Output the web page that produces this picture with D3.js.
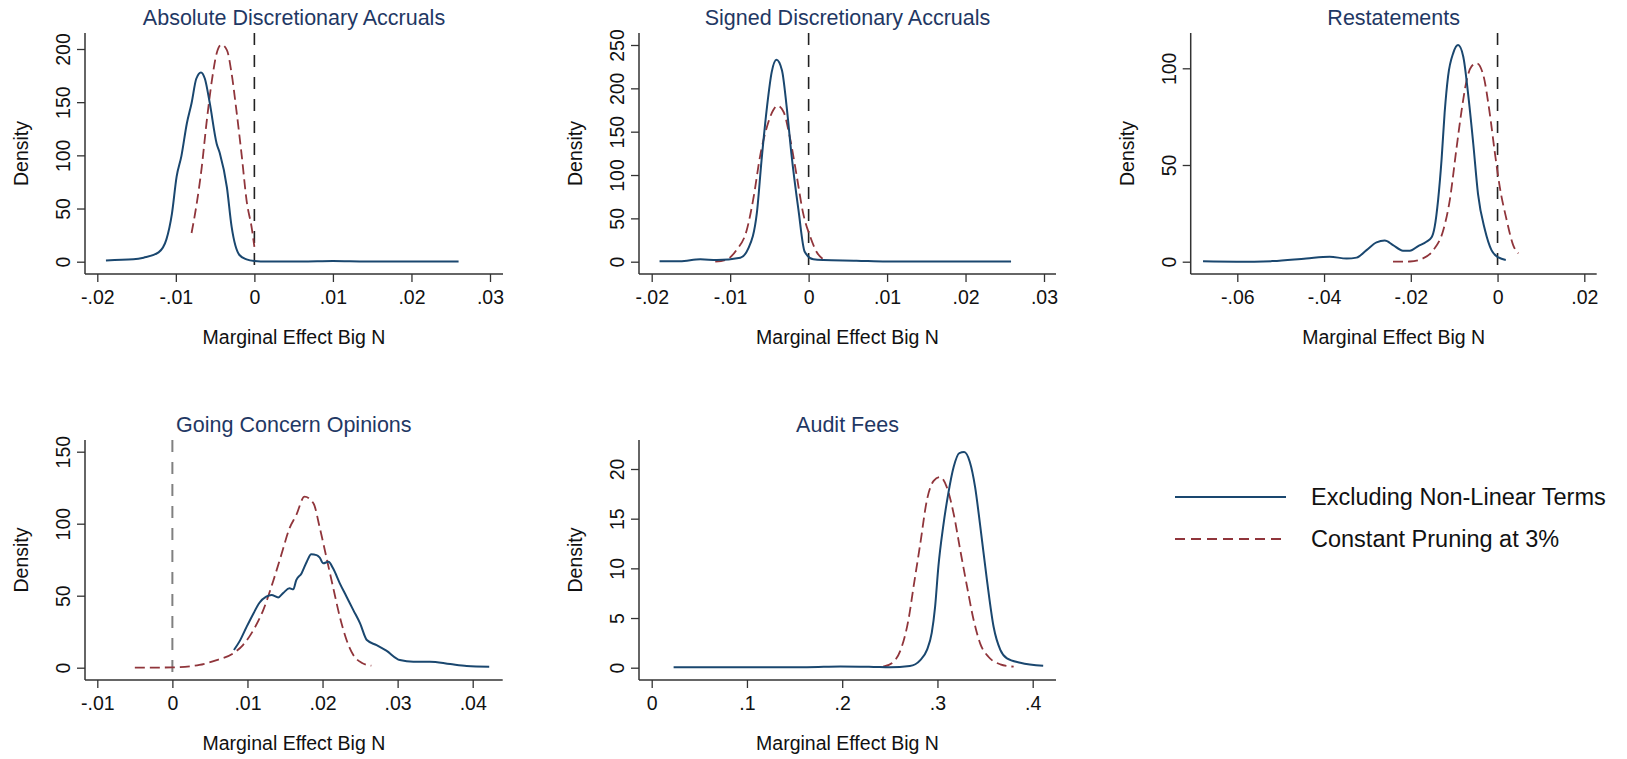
<!DOCTYPE html>
<html>
<head>
<meta charset="utf-8">
<script src="https://cdn.jsdelivr.net/npm/d3@7"></script>
<style>
  body { margin: 0; background: #fff; }
  text { font-family: "Liberation Sans", Arial, sans-serif; }
</style>
</head>
<body>
<div id="chart"></div>
<script>
/////////// DATOS /////////
// x = marginal effect, y = density
var absExcl = [[-0.0189,1.2],[-0.0154,2.2],[-0.0141,3.8],[-0.0122,8.8],[-0.0112,21],[-0.0105,45],[-0.0099,80],[-0.0093,99],[-0.0086,130],[-0.0080,149],[-0.0074,172],[-0.0068,178],[-0.0063,172],[-0.0057,150],[-0.0048,111],[-0.0044,102],[-0.0035,70],[-0.0029,33],[-0.0019,6.3],[-0.0010,2.2],[0,0.6],[0.0016,0.1],[0.0060,0.1],[0.0100,0.6],[0.0143,0.1],[0.0260,0.1]];
var absPrune = [[-0.0080,27],[-0.0074,52],[-0.0067,89],[-0.0061,130],[-0.0054,171],[-0.0048,196],[-0.0042,204],[-0.0035,199],[-0.0029,177],[-0.0023,143],[-0.0016,99],[-0.0010,58],[-0.0003,30],[0,14]];

var sgnExcl = [[-0.0190,0.4],[-0.0164,0.4],[-0.0138,2.7],[-0.0117,1.9],[-0.0087,4.6],[-0.0077,15],[-0.0066,56],[-0.0060,117],[-0.0053,179],[-0.0047,219],[-0.0041,233],[-0.0034,221],[-0.0028,179],[-0.0022,125],[-0.0013,60],[-0.0005,11.5],[0.0006,2.7],[0.0019,1.9],[0.0061,1.2],[0.0099,0.2],[0.0258,0.2]];
var sgnPrune = [[-0.0119,0],[-0.0104,2.7],[-0.0092,13.5],[-0.0079,36],[-0.0070,75],[-0.0062,121],[-0.0053,156],[-0.0045,175],[-0.0040,180],[-0.0032,173],[-0.0024,144],[-0.0015,98],[-0.0007,56],[0.0002,29],[0.0010,11.5],[0.0019,2.7]];

var resExcl = [[-0.0679,0.2],[-0.0602,0],[-0.0518,0.3],[-0.0441,1.7],[-0.0387,2.6],[-0.0348,1.6],[-0.0325,2.1],[-0.0302,6],[-0.0279,10],[-0.0260,10.9],[-0.0241,8.6],[-0.0218,5.7],[-0.0202,5.7],[-0.0183,8.1],[-0.0164,10.3],[-0.0152,12.6],[-0.0145,18],[-0.0137,32],[-0.0129,53],[-0.0122,77],[-0.0114,96],[-0.0102,108],[-0.0091,112],[-0.0079,106],[-0.0068,87],[-0.0056,61],[-0.0045,35],[-0.0029,16.4],[-0.0014,6],[0.0002,2.2],[0.0019,0.9]];
var resPrune = [[-0.0241,0],[-0.0202,0.1],[-0.0172,1.7],[-0.0148,6],[-0.0125,16.4],[-0.0110,32],[-0.0095,58],[-0.0083,78],[-0.0072,93],[-0.0060,101],[-0.0048,102.6],[-0.0033,96.6],[-0.0018,76.7],[-0.0006,56],[0.0005,38.8],[0.0021,21.6],[0.0036,8.6],[0.0048,4.3]];

var gcoExcl = [[0.0082,12.3],[0.0090,18.8],[0.0099,28.5],[0.0108,37.7],[0.0116,45.1],[0.0125,49.3],[0.0132,50.5],[0.0141,48.8],[0.0148,52.1],[0.0156,55.1],[0.0161,54.4],[0.0165,60.9],[0.0172,65.5],[0.0179,73.6],[0.0185,78.7],[0.0192,78.2],[0.0196,76.6],[0.0201,72.5],[0.0208,73.6],[0.0214,69],[0.0223,58.6],[0.0232,49.3],[0.0241,40],[0.0250,30.8],[0.0259,19.2],[0.0272,15.7],[0.0285,11.8],[0.0303,5.3],[0.0321,4.2],[0.0343,4.2],[0.0370,2.5],[0.0392,1.2],[0.0422,0.7]];
var gcoPrune = [[-0.0050,0],[0,0.2],[0.0036,1.9],[0.0059,5.3],[0.0081,10],[0.0094,15.7],[0.0108,26.2],[0.0121,40],[0.0134,59.7],[0.0145,78.2],[0.0156,96.8],[0.0165,106],[0.0176,118.8],[0.0188,114],[0.0196,97.9],[0.0205,77],[0.0214,56],[0.0223,35.4],[0.0232,19.2],[0.0241,8.8],[0.0252,3.5],[0.0265,1.4]];

var feeExcl = [[0.023,0.05],[0.093,0.05],[0.163,0.05],[0.198,0.12],[0.233,0.08],[0.250,0.05],[0.271,0.17],[0.282,0.77],[0.289,1.8],[0.294,3.5],[0.2975,6.1],[0.301,10.2],[0.306,14.2],[0.3115,17.6],[0.317,20.2],[0.323,21.6],[0.328,21.7],[0.334,20.7],[0.3395,18.2],[0.345,14.2],[0.352,8.8],[0.359,4.1],[0.366,1.8],[0.373,0.94],[0.387,0.5],[0.411,0.2]];
var feePrune = [[0.243,0.1],[0.254,0.6],[0.2625,2.1],[0.2695,4.8],[0.275,8.2],[0.282,12.5],[0.289,16.9],[0.296,18.8],[0.3027,19.2],[0.3097,18.2],[0.317,15.5],[0.324,11.8],[0.331,8.2],[0.338,4.8],[0.345,2.4],[0.3535,1.1],[0.366,0.34],[0.380,0.1]];

// títulos y ticks
var titulos = ["Absolute Discretionary Accruals", "Signed Discretionary Accruals", "Restatements", "Going Concern Opinions", "Audit Fees"];
var ticksX = [[-0.02,-0.01,0,0.01,0.02,0.03],[-0.02,-0.01,0,0.01,0.02,0.03],[-0.06,-0.04,-0.02,0,0.02],[-0.01,0,0.01,0.02,0.03,0.04],[0,0.1,0.2,0.3,0.4]];
var ticksY = [[0,50,100,150,200],[0,50,100,150,200,250],[0,50,100],[0,50,100,150],[0,5,10,15,20]];
var leyenda = ["Excluding Non-Linear Terms", "Constant Pruning at 3%"];

/////////// POSICIONES /////////
var paneles = [
  {L:85,   R:503,  T:33,  B:274, xr:[97.3,490],    yr:[261.7,49],  xd:[-0.02,0.03], yd:[0,200], cero:true,  gris:false, excl:absExcl, prune:absPrune},
  {L:639,  R:1056, T:33,  B:274, xr:[651.7,1044],  yr:[261.7,45],  xd:[-0.02,0.03], yd:[0,250], cero:true,  gris:false, excl:sgnExcl, prune:sgnPrune},
  {L:1190.7,R:1596.7,T:33,B:274, xr:[1237.3,1584.3],yr:[261.7,68.3],xd:[-0.06,0.02],yd:[0,100], cero:true,  gris:false, excl:resExcl, prune:resPrune},
  {L:85,   R:502.7,T:440, B:680, xr:[97.3,472.7],  yr:[667.7,451.7],xd:[-0.01,0.04],yd:[0,150], cero:true,  gris:true,  excl:gcoExcl, prune:gcoPrune},
  {L:639,  R:1056, T:440, B:680, xr:[651.7,1032.7],yr:[667.7,469], xd:[0,0.4],      yd:[0,20],  cero:false, gris:false, excl:feeExcl, prune:feePrune}
];

var azul = "#1a476f", rojo = "#90353b", ejeColor = "#333";

var svg = d3.select("#chart").append("svg")
  .attr("width", 1627)
  .attr("height", 759);

// formato estilo Stata: .01, -.02
function fmt(v) {
  return String(+v.toFixed(4)).replace(/^(-?)0\./, "$1.");
}

paneles.forEach(function(p, i) {
  var g = svg.append("g");
  var x = d3.scaleLinear().domain(p.xd).range(p.xr);
  var y = d3.scaleLinear().domain(p.yd).range(p.yr);

  // Ejes (línea)
  g.append("line").attr("x1", p.L).attr("x2", p.R).attr("y1", p.B).attr("y2", p.B)
    .attr("stroke", ejeColor).attr("stroke-width", 1.5);
  g.append("line").attr("x1", p.L).attr("x2", p.L).attr("y1", p.T).attr("y2", p.B)
    .attr("stroke", ejeColor).attr("stroke-width", 1.5);

  // Eje X
  var ax = g.append("g")
    .attr("transform", "translate(0," + p.B + ")")
    .call(d3.axisBottom(x).tickValues(ticksX[i]).tickFormat(fmt).tickSize(8).tickPadding(8));
  ax.select(".domain").remove();
  ax.selectAll("line").attr("stroke", ejeColor).attr("stroke-width", 1.3);
  ax.selectAll("text").attr("font-size", "19.5px").attr("fill", "#111")
    .attr("font-family", "Liberation Sans, Arial, sans-serif");

  // Eje Y
  var ay = g.append("g")
    .attr("transform", "translate(" + p.L + ",0)")
    .call(d3.axisLeft(y).tickValues(ticksY[i]).tickFormat(fmt).tickSize(8));
  ay.select(".domain").remove();
  ay.selectAll("line").attr("stroke", ejeColor).attr("stroke-width", 1.3);
  ay.selectAll("text")
    .attr("font-size", "19.5px").attr("fill", "#111")
    .attr("font-family", "Liberation Sans, Arial, sans-serif")
    .attr("text-anchor", "middle")
    .attr("x", 0).attr("dy", 0)
    .attr("transform", "translate(-22,0) rotate(-90)")
    .attr("dominant-baseline", "central");

  // Línea en cero
  if (p.cero) {
    g.append("line")
      .attr("x1", x(0)).attr("x2", x(0)).attr("y1", p.T).attr("y2", p.B)
      .attr("stroke", p.gris ? "#808080" : "#222")
      .attr("stroke-width", p.gris ? 2 : 1.6)
      .attr("stroke-dasharray", "12,10");
  }

  var linea = d3.line()
    .x(function(d) { return x(d[0]); })
    .y(function(d) { return y(d[1]); })
    .curve(d3.curveMonotoneX);

  g.append("path").datum(p.prune)
    .attr("fill", "none").attr("stroke", rojo).attr("stroke-width", 1.8)
    .attr("stroke-dasharray", "10,5")
    .attr("d", linea);

  g.append("path").datum(p.excl)
    .attr("fill", "none").attr("stroke", azul).attr("stroke-width", 2)
    .attr("d", linea);

  // Títulos
  var cx = (p.L + p.R) / 2;
  g.append("text")
    .attr("x", cx).attr("y", p.T - 15)
    .attr("text-anchor", "middle").attr("dominant-baseline", "central")
    .attr("font-size", "21.5px").attr("fill", "#1f3864")
    .text(titulos[i]);

  g.append("text")
    .attr("x", cx).attr("y", p.B + 63)
    .attr("text-anchor", "middle").attr("dominant-baseline", "central")
    .attr("font-size", "19.5px").attr("fill", "#111")
    .text("Marginal Effect Big N");

  g.append("text")
    .attr("transform", "translate(" + (p.L - 64) + "," + ((p.T + p.B) / 2) + ") rotate(-90)")
    .attr("text-anchor", "middle").attr("dominant-baseline", "central")
    .attr("font-size", "19.5px").attr("fill", "#111")
    .text("Density");
});

/////////// LEYENDA /////////
var ley = svg.append("g");
var estilos = [{c: azul, d: null, y: 497}, {c: rojo, d: "10,6", y: 539}];
estilos.forEach(function(e, i) {
  ley.append("line").attr("x1", 1175).attr("x2", 1286).attr("y1", e.y).attr("y2", e.y)
    .attr("stroke", e.c).attr("stroke-width", 2.2)
    .attr("stroke-dasharray", e.d);
  ley.append("text").attr("x", 1311).attr("y", e.y)
    .attr("dominant-baseline", "central")
    .attr("font-size", "23.5px").attr("fill", "#111")
    .text(leyenda[i]);
});
</script>
</body>
</html>
